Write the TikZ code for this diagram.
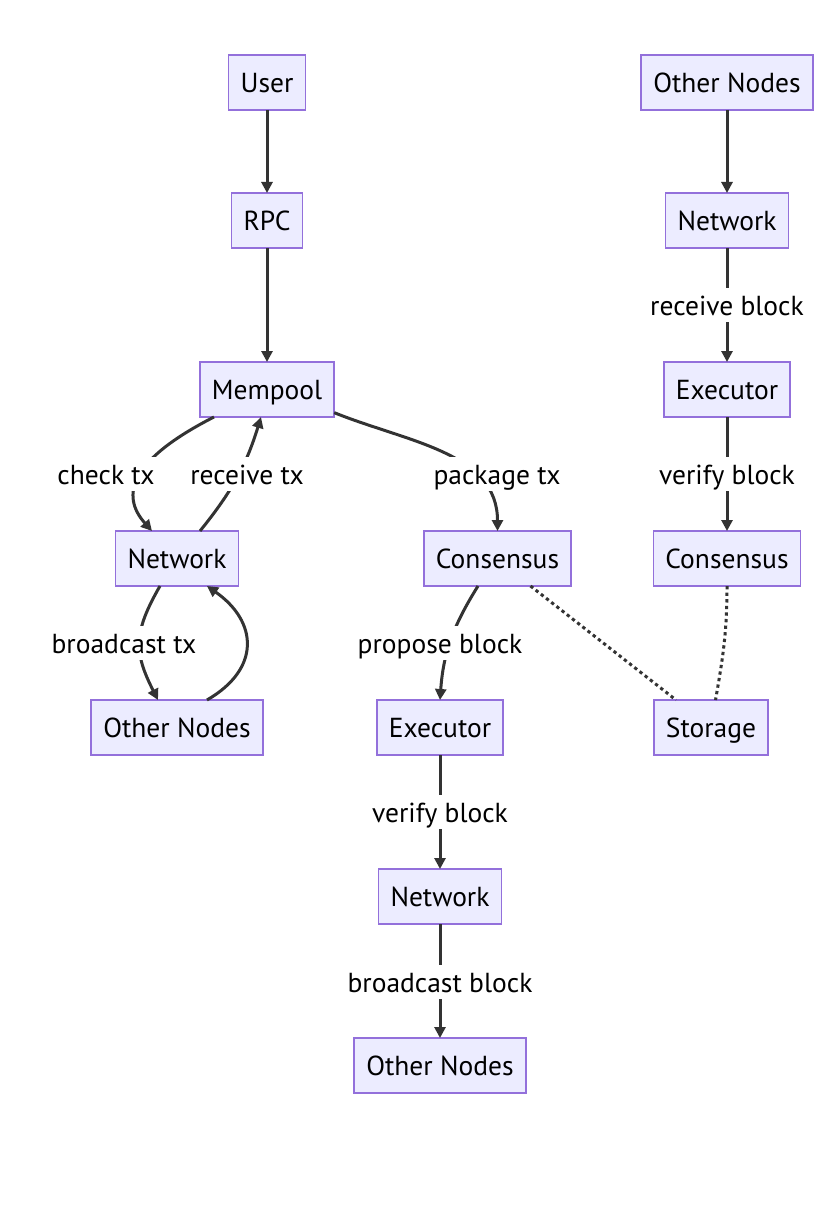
\documentclass[tikz,border=0pt]{standalone}
\usepackage{fontspec}
\setmainfont{PT Sans}
\usetikzlibrary{arrows.meta,positioning}
\definecolor{nfill}{HTML}{ECECFF}
\definecolor{nline}{HTML}{9370DB}
\definecolor{eline}{HTML}{333333}
\tikzset{
  box/.style ={draw=nline,fill=nfill,line width=1.6pt,minimum height=55pt,
               text height=25pt,text depth=5pt,
               inner xsep=12pt,outer sep=0pt,font=\fontsize{27.5}{32}\selectfont},
  lbl/.style ={fill=white,inner xsep=2pt,inner ysep=2pt,text height=25pt,text depth=5pt,
               font=\fontsize{27.5}{32}\selectfont},
  a/.style   ={-{Triangle[length=11pt,width=11pt]},line width=3pt,draw=eline},
  dot/.style ={line width=3pt,draw=eline,dash pattern=on 3.3pt off 3.3pt},
}
\begin{document}
\begin{tikzpicture}[x=1pt,y=1pt]
  \path[use as bounding box] (0,0) rectangle (828,-1230);

  % transaction path
  \node[box] (user) at (267,-82.5) {User};
  \node[box,below=83pt of user] (rpc) {RPC};
  \node[box,below=114pt of rpc] (mem) {Mempool};
  \node[box] (netA) at (177,-558.5) {Network};
  \node[box,below=114pt of netA] (othA) {Other Nodes};

  % block production
  \node[box] (consA) at (497.5,-558.5) {Consensus};
  \node[box,below=114pt of consA,xshift=-57.5pt] (execA) {Executor};
  \node[box,below=114pt of execA] (netB) {Network};
  \node[box,below=114pt of netB] (othB) {Other Nodes};

  % block import
  \node[box] (othC) at (727,-82.5) {Other Nodes};
  \node[box,below=83pt of othC] (netC) {Network};
  \node[box,below=114pt of netC] (execC) {Executor};
  \node[box,below=114pt of execC] (consC) {Consensus};
  \node[box,below=114pt of consC,xshift=-16pt] (store) {Storage};

  \draw[a] (user) -- (rpc);
  \draw[a] (rpc) -- (mem);
  \draw[a] ([xshift=-53pt]mem.south) to[out=207,in=132,out looseness=1.85,in looseness=.95]
        ([xshift=-25pt]netA.north);
  \draw[a] ([xshift=23pt]netA.north) to[out=51,in=253] ([xshift=-6pt]mem.south);
  \draw[a] (mem.-19) to[out=-22,in=90] (consA.north);
  \draw[a] ([xshift=-17pt]netA.south) to[out=240,in=117,looseness=1.2] ([xshift=-19pt]othA.north);
  \draw[a] ([xshift=30pt]othA.north) to[out=30,in=-35,looseness=1.4] ([xshift=30pt]netA.south);
  \draw[a] ([xshift=-19.5pt]consA.south) to[out=238,in=86] (execA.north);
  \draw[a] (execA) -- (netB);
  \draw[a] (netB) -- (othB);
  \draw[a] (othC) -- (netC);
  \draw[a] (netC) -- (execC);
  \draw[a] (execC) -- (consC);
  \draw[dot] ([xshift=33pt]consA.south) -- ([xshift=-35pt]store.north);
  \draw[dot] (consC.south) to[out=-90,in=80] ([xshift=4.5pt]store.north);

  % edge labels
  \node[lbl] (lchk) at (106,-474) {check tx};
  \node[lbl] (lrcv) at (247,-474) {receive tx};
  \node[lbl] (lpkg) at (497,-474) {package tx};
  \node[lbl] (lbtx) at (124,-643) {broadcast tx};
  \node[lbl] (lprop) at (440,-643) {propose block};
  \node[lbl] (lvfyA) at (440,-812) {verify block};
  \node[lbl] (lbblk) at (440,-982) {broadcast block};
  \node[lbl] (lrblk) at (727,-305) {receive block};
  \node[lbl] (lvfyC) at (727,-474) {verify block};
\end{tikzpicture}
\end{document}
